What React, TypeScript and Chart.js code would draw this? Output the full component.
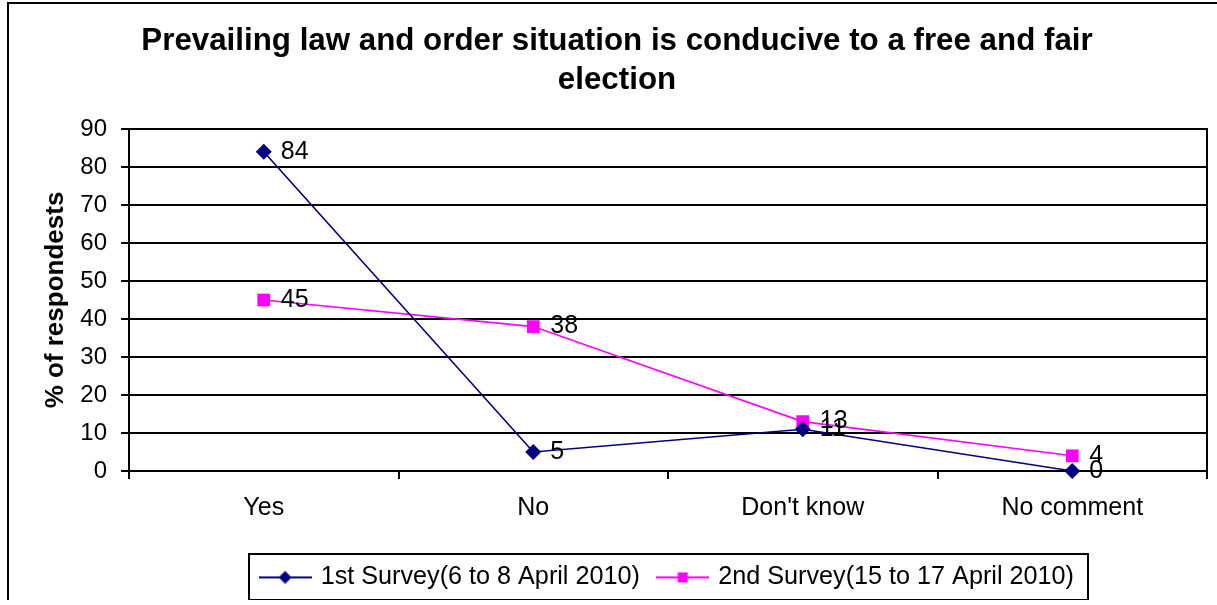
import React, { useEffect, useRef } from "react";
import { Chart, registerables } from "chart.js";

Chart.register(...registerables);

const categories = ["Yes", "No", "Don't know", "No comment"];
const survey1 = [84, 5, 11, 0];
const survey2 = [45, 38, 13, 4];
const seriesNames = ["1st Survey(6 to 8 April 2010)", "2nd Survey(15 to 17 April 2010)"];
const titleLines = ["Prevailing law and order situation is conducive to a free and fair", "election"];
const yAxisTitle = "% of respondests";
const yMin = 0;
const yMax = 90;
const yStep = 10;

const FONT = "'Liberation Sans', Arial, Helvetica, sans-serif";
const NAVY = "#000080";
const MAGENTA = "#FF00FF";

function makeLegendIcon(color: string, style: "diamond" | "square"): HTMLCanvasElement {
  const c = document.createElement("canvas");
  c.width = 53;
  c.height = 16;
  const g = c.getContext("2d")!;
  g.strokeStyle = color;
  g.lineWidth = 2;
  g.beginPath();
  g.moveTo(0, 8);
  g.lineTo(53, 8);
  g.stroke();
  g.fillStyle = color;
  if (style === "diamond") {
    g.beginPath();
    g.moveTo(26.5, 1.5);
    g.lineTo(33, 8);
    g.lineTo(26.5, 14.5);
    g.lineTo(20, 8);
    g.closePath();
    g.fill();
  } else {
    g.fillRect(21.5, 3, 10, 10);
  }
  return c;
}

const framePlugin = {
  id: "frame",
  beforeDraw(chart: any) {
    const ctx = chart.ctx;
    ctx.save();
    ctx.fillStyle = "#ffffff";
    ctx.fillRect(0, 0, chart.width, chart.height);
    ctx.fillStyle = "#000000";
    ctx.fillRect(7, 2, 2, chart.height);
    ctx.fillRect(7, 2, chart.width, 2);
    ctx.restore();
  },
};

const plotBorderPlugin = {
  id: "plotBorder",
  beforeDatasetsDraw(chart: any) {
    const { ctx, chartArea } = chart;
    ctx.save();
    ctx.strokeStyle = "#000000";
    ctx.lineWidth = 2;
    ctx.beginPath();
    ctx.moveTo(chartArea.right, chartArea.top - 1);
    ctx.lineTo(chartArea.right, chartArea.bottom);
    ctx.stroke();
    ctx.restore();
  },
};

const valueLabelPlugin = {
  id: "valueLabels",
  afterDatasetsDraw(chart: any) {
    const ctx = chart.ctx;
    ctx.save();
    ctx.font = `25px ${FONT}`;
    ctx.fillStyle = "#000000";
    ctx.textAlign = "left";
    ctx.textBaseline = "middle";
    chart.data.datasets.forEach((ds: any, di: number) => {
      const meta = chart.getDatasetMeta(di);
      meta.data.forEach((pt: any, i: number) => {
        ctx.fillText(String(ds.data[i]), pt.x + 17, pt.y);
      });
    });
    ctx.restore();
  },
};

const legendBoxPlugin = {
  id: "legendBox",
  afterDraw(chart: any) {
    const lg = chart.legend;
    if (!lg || !lg.legendHitBoxes || !lg.legendHitBoxes.length) return;
    const boxes = lg.legendHitBoxes;
    const first = boxes[0];
    const last = boxes[boxes.length - 1];
    const mid = first.top + first.height / 2;
    const left = first.left - 13.5;
    const right = last.left + last.width + 14;
    const ctx = chart.ctx;
    ctx.save();
    ctx.strokeStyle = "#000000";
    ctx.lineWidth = 2;
    ctx.strokeRect(Math.round(left), Math.round(mid - 23), Math.round(right - left), 46);
    ctx.restore();
  },
};

export default function App() {
  const canvasRef = useRef<HTMLCanvasElement | null>(null);

  useEffect(() => {
    const canvas = canvasRef.current;
    if (!canvas) return;
    const icons = [makeLegendIcon(NAVY, "diamond"), makeLegendIcon(MAGENTA, "square")];

    const chart = new Chart(canvas, {
      type: "line",
      data: {
        labels: categories,
        datasets: [
          {
            label: seriesNames[0],
            data: survey1,
            borderColor: NAVY,
            backgroundColor: NAVY,
            borderWidth: 1.6,
            pointStyle: "rectRot",
            pointRadius: 8,
            pointBorderWidth: 0,
            pointBackgroundColor: NAVY,
            tension: 0,
            clip: false as any,
          },
          {
            label: seriesNames[1],
            data: survey2,
            borderColor: MAGENTA,
            backgroundColor: MAGENTA,
            borderWidth: 1.6,
            pointStyle: "rect",
            pointRadius: 9,
            pointBorderWidth: 0,
            pointBackgroundColor: MAGENTA,
            tension: 0,
            clip: false as any,
          },
        ],
      },
      options: {
        responsive: false,
        animation: false,
        events: [],
        layout: { padding: { left: 27, right: 10, top: 0, bottom: 0 } },
        font: { family: FONT },
        color: "#000000",
        scales: {
          x: {
            type: "category",
            offset: true,
            grid: {
              offset: true,
              drawOnChartArea: false,
              drawTicks: true,
              tickLength: 8,
              color: "#000000",
              lineWidth: 2,
            },
            border: { display: true, color: "#000000", width: 2 },
            ticks: {
              color: "#000000",
              font: { family: FONT, size: 25 },
              padding: 14,
              maxRotation: 0,
              autoSkip: false,
            },
            afterFit(scale: any) {
              scale.height = 74;
            },
          },
          y: {
            min: yMin,
            max: yMax,
            grid: {
              drawOnChartArea: true,
              drawTicks: true,
              tickLength: 8,
              color: "#000000",
              lineWidth: 2,
            },
            border: { display: true, color: "#000000", width: 2 },
            ticks: {
              stepSize: yStep,
              color: "#000000",
              font: { family: FONT, size: 24 },
              padding: 14,
            },
            title: {
              display: true,
              text: yAxisTitle,
              color: "#000000",
              font: { family: FONT, size: 26, weight: "bold" },
              padding: { top: 13, bottom: 0 },
            },
            afterFit(scale: any) {
              scale.width = 102;
            },
          },
        },
        plugins: {
          title: {
            display: true,
            text: titleLines,
            color: "#000000",
            font: { family: FONT, size: 31.3, weight: "bold", lineHeight: 1.25 },
            padding: { top: 22, bottom: 28.75 },
          },
          legend: {
            display: true,
            position: "bottom",
            fullSize: false,
            labels: {
              color: "#000000",
              font: { family: FONT, size: 25.2 },
              usePointStyle: true,
              pointStyleWidth: 46,
              boxHeight: 25.2,
              padding: 19.8,
              generateLabels(ch: any) {
                const items = (Chart.defaults as any).plugins.legend.labels.generateLabels(ch);
                return items.map((it: any, i: number) => ({ ...it, pointStyle: icons[i] }));
              },
            },
          },
          tooltip: { enabled: false },
        },
      },
      plugins: [framePlugin, plotBorderPlugin, valueLabelPlugin, legendBoxPlugin],
    } as any);

    return () => chart.destroy();
  }, []);

  return (
    <div style={{ position: "fixed", left: 0, top: 0, width: 1217, height: 605, overflow: "hidden", background: "#fff" }}>
      <canvas ref={canvasRef} width={1217} height={600} style={{ display: "block" }} />
    </div>
  );
}
